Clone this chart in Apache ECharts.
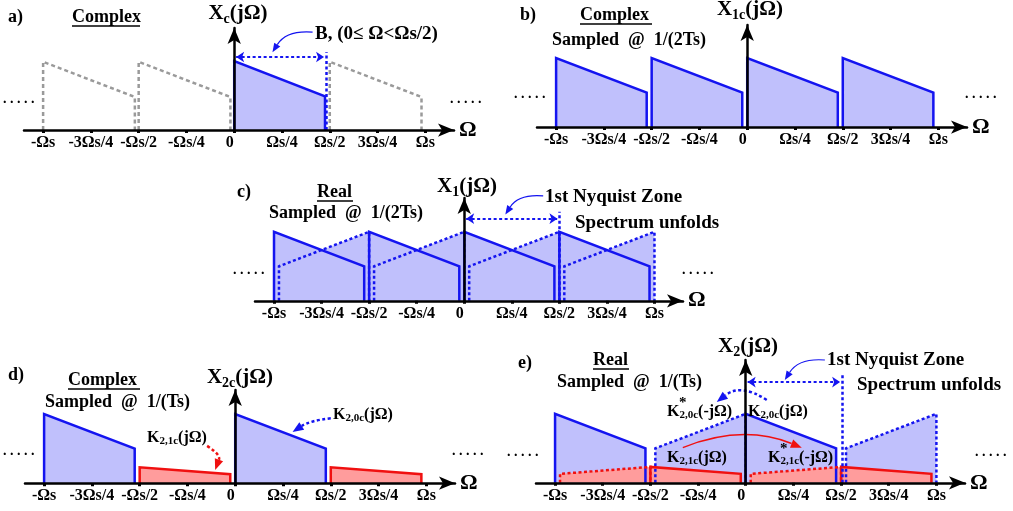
<!DOCTYPE html>
<html>
<head>
<meta charset="utf-8">
<script src="https://cdn.jsdelivr.net/npm/echarts@6/dist/echarts.min.js"></script>
<style>
  html, body { margin: 0; padding: 0; background: #fff; }
  #chart { width: 1013px; height: 511px; }
</style>
</head>
<body>
<div id="chart"></div>
<script>
// 横轴刻度 (单位: Ωs)
var tickValues = [-1, -0.75, -0.5, -0.25, 0, 0.25, 0.5, 0.75, 1];
var tickLabels = ['-Ωs', '-3Ωs/4', '-Ωs/2', '-Ωs/4', '0', 'Ωs/4', 'Ωs/2', '3Ωs/4', 'Ωs'];

// 每个频谱块: [起点, 终点, 起点高度, 终点高度]
var aCopies = [[-1, -0.52, 0.99, 0.48], [-0.5, -0.02, 0.99, 0.48], [0.5, 0.98, 0.99, 0.48]];
var aBase = [[0, 0.475, 1, 0.49]];
var bCopies = [[-1, -0.526, 1, 0.5], [-0.5, -0.026, 1, 0.5], [0, 0.474, 1, 0.5], [0.5, 0.974, 1, 0.5]];
var cSpectrum = [[-1, -0.526, 1, 0.5], [-0.5, -0.026, 1, 0.5], [0, 0.474, 1, 0.5], [0.5, 0.974, 1, 0.5]];
var cMirror = [[-0.974, -0.5, 0.5, 1], [-0.474, 0, 0.5, 1], [0.026, 0.5, 0.5, 1], [0.526, 1, 0.5, 1]];
var dBase = [[-1, -0.526, 1, 0.5], [0, 0.474, 1, 0.5]];
var dAlias = [[-0.5, -0.026, 0.23, 0.13], [0.5, 0.974, 0.23, 0.13]];
var eBase = [[-1, -0.526, 1, 0.5], [0, 0.474, 1, 0.5]];
var eMirror = [[-0.474, 0, 0.5, 1], [0.526, 1, 0.5, 1]];
var eAlias = [[-0.5, -0.026, 0.23, 0.13], [0.5, 0.974, 0.23, 0.13]];
var eAliasMirror = [[-0.974, -0.5, 0.13, 0.23], [0.026, 0.5, 0.13, 0.23]];

var FONT = '"Liberation Serif", "Times New Roman", serif';
var BLUE = '#1414f0', BLUE_FILL = '#c0c0fc', RED = '#f01010', RED_FILL = '#ff9c9c', GRAY = '#9a9a9a';
var UNIT = 69; // 每单位高度像素

// 各子图网格
var panels = [
    { left: 24, top: 28, width: 430, yMax: 1.48 },
    { left: 537, top: 25, width: 430, yMax: 1.48 },
    { left: 255, top: 198, width: 428, yMax: 1.49 },
    { left: 25, top: 390, width: 430, yMax: 1.35 },
    { left: 536, top: 360, width: 429, yMax: 1.78 }
];

function corners(api) {
    var x0 = api.value(0), x1 = api.value(1);
    return [api.coord([x0, 0]), api.coord([x0, api.value(2)]), api.coord([x1, api.value(3)]), api.coord([x1, 0])];
}

function fillSeries(g, data, color) {
    return {
        type: 'custom', xAxisIndex: g, yAxisIndex: g, data: data, z: 2, silent: true, clip: false,
        encode: { x: [0, 1], y: [2, 3] },
        renderItem: function (p, api) {
            return { type: 'polygon', shape: { points: corners(api) }, style: { fill: color } };
        }
    };
}

function edgeSeries(g, data, color, dash, width) {
    return {
        type: 'custom', xAxisIndex: g, yAxisIndex: g, data: data, z: 3, silent: true, clip: false,
        encode: { x: [0, 1], y: [2, 3] },
        renderItem: function (p, api) {
            return {
                type: 'polyline', shape: { points: corners(api) },
                style: { stroke: color, lineWidth: width || 2.5, fill: null, lineDash: dash || null }
            };
        }
    };
}

// 直线箭头 (markLine)
function arrowSeries(g, from, to, opt) {
    opt = opt || {};
    return {
        type: 'line', xAxisIndex: g, yAxisIndex: g, data: [], z: 4, silent: true,
        markLine: {
            silent: true, animation: false, label: { show: false },
            symbol: [opt.both ? 'arrow' : 'none', opt.noHead ? 'none' : 'arrow'], symbolSize: opt.size || 9,
            lineStyle: { color: opt.color || BLUE, width: opt.width || 2, type: opt.type || 'solid' },
            data: [[{ coord: from }, { coord: to }]]
        }
    };
}

// 弯曲箭头: [x0, y0, x1, y1, 弯曲度]
function curveSeries(g, from, to, bend, opt) {
    opt = opt || {};
    var color = opt.color || BLUE, size = opt.size || 9;
    return {
        type: 'custom', xAxisIndex: g, yAxisIndex: g, z: 4, silent: true, clip: false,
        data: [[from[0], from[1], to[0], to[1]]],
        encode: { x: [0, 2], y: [1, 3] },
        renderItem: function (p, api) {
            var a = api.coord([api.value(0), api.value(1)]);
            var b = api.coord([api.value(2), api.value(3)]);
            var cp = [(a[0] + b[0]) / 2 - (a[1] - b[1]) * bend, (a[1] + b[1]) / 2 - (b[0] - a[0]) * bend];
            var dx = b[0] - cp[0], dy = b[1] - cp[1], len = Math.sqrt(dx * dx + dy * dy);
            dx /= len; dy /= len;
            var base = [b[0] - dx * size, b[1] - dy * size];
            var w = size * 0.4;
            return {
                type: 'group', children: [
                    { type: 'bezierCurve',
                      shape: { x1: a[0], y1: a[1], x2: base[0], y2: base[1], cpx1: cp[0], cpy1: cp[1] },
                      style: { stroke: color, lineWidth: opt.width || 2, fill: null, lineDash: opt.type || null } },
                    { type: 'polygon',
                      shape: { points: [b, [base[0] - dy * w, base[1] + dx * w], [base[0] + dy * w, base[1] - dx * w]] },
                      style: { fill: color } }
                ]
            };
        }
    };
}

var DOT = [3, 2.5];

var series = [
    // a)
    edgeSeries(0, aCopies, GRAY, [4, 3], 2.5),
    fillSeries(0, aBase, BLUE_FILL),
    edgeSeries(0, aBase, BLUE),
    arrowSeries(0, [0.01, 1.06], [0.47, 1.06], { both: true, type: DOT, size: 8 }),
    arrowSeries(0, [0.48, 0], [0.48, 1.13], { type: DOT, noHead: true, width: 2.5 }),
    curveSeries(0, [0.41, 1.42], [0.2, 1.13], -0.3, { width: 1.2, size: 9 }),
    // b)
    fillSeries(1, bCopies, BLUE_FILL),
    edgeSeries(1, bCopies, BLUE),
    // c)
    fillSeries(2, cSpectrum, BLUE_FILL),
    fillSeries(2, cMirror, BLUE_FILL),
    edgeSeries(2, cSpectrum, BLUE),
    edgeSeries(2, cMirror, BLUE, DOT),
    arrowSeries(2, [0.01, 1.19], [0.49, 1.19], { both: true, type: DOT, size: 8 }),
    arrowSeries(2, [0.5, 0], [0.5, 1.29], { type: DOT, noHead: true, width: 2.5 }),
    curveSeries(2, [0.415, 1.52], [0.216, 1.25], -0.3, { width: 1.2, size: 9 }),
    // d)
    fillSeries(3, dBase, BLUE_FILL),
    fillSeries(3, dAlias, RED_FILL),
    edgeSeries(3, dBase, BLUE),
    edgeSeries(3, dAlias, RED),
    curveSeries(3, [0.5, 0.94], [0.3, 0.74], -0.12, { type: DOT, width: 2.5, size: 11 }),
    curveSeries(3, [-0.147, 0.54], [-0.105, 0.19], 0.4, { color: RED, type: DOT, width: 2.5, size: 11 }),
    // e)
    fillSeries(4, eBase, BLUE_FILL),
    fillSeries(4, eMirror, BLUE_FILL),
    fillSeries(4, eAlias, RED_FILL),
    fillSeries(4, eAliasMirror, RED_FILL),
    edgeSeries(4, eBase, BLUE),
    edgeSeries(4, eMirror, BLUE, DOT),
    edgeSeries(4, eAlias, RED),
    edgeSeries(4, eAliasMirror, RED, DOT),
    arrowSeries(4, [0.01, 1.46], [0.495, 1.46], { both: true, type: DOT, size: 8 }),
    arrowSeries(4, [0.505, 0], [0.505, 1.57], { type: DOT, noHead: true, width: 2.5 }),
    curveSeries(4, [0.415, 1.78], [0.205, 1.49], -0.3, { width: 1.2, size: 9 }),
    curveSeries(4, [0.11, 1.2], [-0.152, 1.17], -0.36, { type: DOT, width: 2.5, size: 11 }),
    curveSeries(4, [-0.33, 0.51], [0.294, 0.51], 0.2, { color: RED, width: 1.5, size: 11 })
];

var grids = [], xAxes = [], yAxes = [];
panels.forEach(function (p, i) {
    grids.push({ left: p.left, top: p.top, width: p.width, height: p.yMax * UNIT });
    xAxes.push({
        gridIndex: i, type: 'value', min: -1.1, max: 1.15, z: 5,
        name: 'Ω', nameGap: 5, nameLocation: 'end',
        nameTextStyle: { fontFamily: FONT, fontWeight: 'bold', fontSize: 22, color: '#000', verticalAlign: 'middle' },
        axisLine: { onZero: true, symbol: ['none', 'arrow'], symbolSize: [10, 16], lineStyle: { color: '#000', width: 2.5 } },
        axisTick: { customValues: tickValues, length: 3, lineStyle: { color: '#000', width: 3 } },
        axisLabel: {
            customValues: tickValues, margin: 5, color: '#000',
            fontFamily: FONT, fontWeight: 'bold', fontSize: 16,
            formatter: function (v) {
                var k = tickValues.indexOf(v);
                if (k < 0) return '';
                return v === 0 ? '{z|0}' : tickLabels[k];
            },
            rich: { z: { fontFamily: FONT, fontWeight: 'bold', fontSize: 16, color: '#000', padding: [0, 9, 0, 0] } }
        },
        splitLine: { show: false }
    });
    yAxes.push({
        gridIndex: i, type: 'value', min: 0, max: p.yMax, z: 5,
        axisLine: { show: true, onZero: true, symbol: ['none', 'arrow'], symbolSize: [10, 16], lineStyle: { color: '#000', width: 2.5 } },
        axisTick: { show: false }, axisLabel: { show: false }, splitLine: { show: false }
    });
});

// 文字
function txt(x, y, text, size, align) {
    return { type: 'text', x: x, y: y, z: 10, silent: true,
        style: { text: text, fill: '#000', font: 'bold ' + size + 'px ' + FONT, verticalAlign: 'middle', align: align || 'left' } };
}
function sub(x, y, main, s, tail, size, subSize, drop, align) {
    return { type: 'text', x: x, y: y, z: 10, silent: true,
        style: {
            text: '{m|' + main + '}{s|' + s + '}{m|' + tail + '}', fill: '#000', verticalAlign: 'middle', align: align || 'left',
            rich: {
                m: { fontFamily: FONT, fontWeight: 'bold', fontSize: size, fill: '#000' },
                s: { fontFamily: FONT, fontWeight: 'bold', fontSize: subSize, fill: '#000', padding: [drop, 0, 0, 0] }
            }
        } };
}
function uline(x1, x2, y) {
    return { type: 'line', z: 10, silent: true, shape: { x1: x1, y1: y, x2: x2, y2: y }, style: { stroke: '#000', lineWidth: 1.5 } };
}
var DOTS = '. . . . .';

var graphics = [
    // a)
    txt(8, 17, 'a)', 18), txt(72, 17, 'Complex', 18), uline(72, 140, 26),
    sub(238, 14, 'X', 'c', '(jΩ)', 21, 14, 10, 'center'),
    txt(315, 34, 'B, (0≤ Ω<Ωs/2)', 19),
    txt(3, 99, DOTS, 14), txt(450, 99, DOTS, 14),
    // b)
    txt(520, 15, 'b)', 18), txt(580, 15, 'Complex', 18), uline(580, 652, 24),
    txt(552, 40, 'Sampled  @  1/(2Ts)', 18),
    sub(750, 10, 'X', '1c', '(jΩ)', 21, 14, 10, 'center'),
    txt(514, 94, DOTS, 14), txt(965, 94, DOTS, 14),
    // c)
    txt(237, 192, 'c)', 18), txt(317, 192, 'Real', 18), uline(317, 353, 201),
    txt(269, 213, 'Sampled  @  1/(2Ts)', 18),
    sub(467, 187, 'X', '1', '(jΩ)', 21, 14, 10, 'center'),
    txt(545, 197, '1st Nyquist Zone', 19),
    txt(575, 223, 'Spectrum unfolds', 19),
    txt(233, 270, DOTS, 14), txt(682, 270, DOTS, 14),
    // d)
    txt(8, 375, 'd)', 18), txt(68, 380, 'Complex', 18), uline(68, 140, 389),
    txt(45, 402, 'Sampled  @  1/(Ts)', 18),
    sub(240, 378, 'X', '2c', '(jΩ)', 21, 14, 10, 'center'),
    sub(333, 415, 'K', '2,0c', '(jΩ)', 16, 11, 6),
    sub(147, 438, 'K', '2,1c', '(jΩ)', 16, 11, 6),
    txt(3, 451, DOTS, 14), txt(452, 451, DOTS, 14),
    // e)
    txt(518, 363, 'e)', 18), txt(593, 360, 'Real', 18), uline(593, 629, 369),
    txt(557, 382, 'Sampled  @  1/(Ts)', 18),
    sub(748, 347, 'X', '2', '(jΩ)', 21, 14, 10, 'center'),
    txt(827, 360, '1st Nyquist Zone', 19),
    txt(857, 385, 'Spectrum unfolds', 19),
    sub(667, 412, 'K', '2,0c', '(-jΩ)', 16, 11, 6), txt(679, 403, '*', 15),
    sub(748, 412, 'K', '2,0c', '(jΩ)', 16, 11, 6),
    sub(667, 458, 'K', '2,1c', '(jΩ)', 16, 11, 6),
    sub(768, 458, 'K', '2,1c', '(-jΩ)', 16, 11, 6), txt(780, 449, '*', 15),
    txt(507, 452, DOTS, 14), txt(975, 452, DOTS, 14)
];

var chart = echarts.init(document.getElementById('chart'));
chart.setOption({
    animation: false,
    backgroundColor: '#fff',
    grid: grids,
    xAxis: xAxes,
    yAxis: yAxes,
    series: series,
    graphic: graphics
});
</script>
</body>
</html>
